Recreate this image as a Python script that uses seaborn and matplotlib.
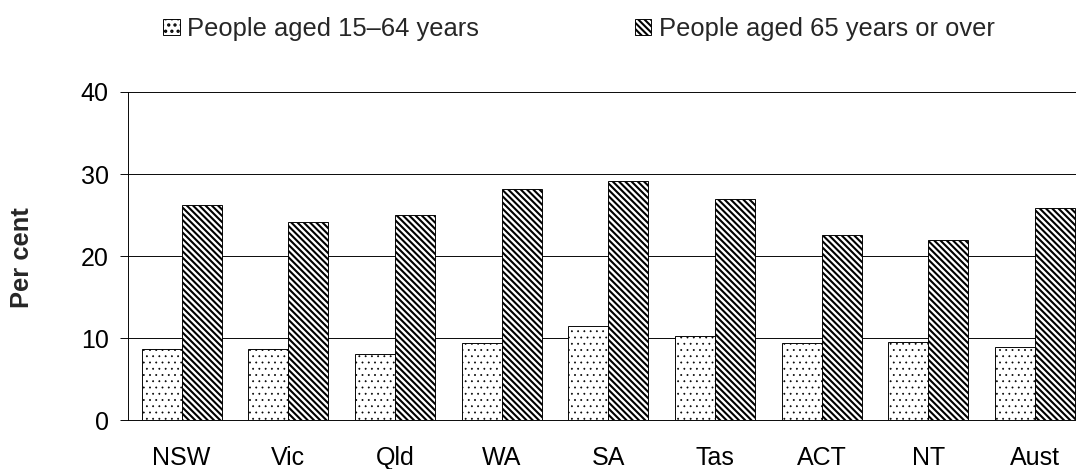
import numpy as np
import pandas as pd
import seaborn as sns
import matplotlib.pyplot as plt

states = ['NSW', 'Vic', 'Qld', 'WA', 'SA', 'Tas', 'ACT', 'NT', 'Aust']
aged_15_64 = [8.7, 8.7, 8.1, 9.4, 11.5, 10.2, 9.4, 9.5, 8.9]
aged_65_over = [26.2, 24.1, 25.0, 28.2, 29.2, 27.0, 22.5, 22.0, 25.9]
series_names = ['People aged 15–64 years', 'People aged 65 years or over']
y_ticks = [0, 10, 20, 30, 40]

df = pd.DataFrame({
    'state': states * 2,
    'group': [series_names[0]] * len(states) + [series_names[1]] * len(states),
    'value': aged_15_64 + aged_65_over,
})

sns.set_style('white')
plt.rcParams['font.family'] = ['Liberation Sans', 'DejaVu Sans']
plt.rcParams['hatch.linewidth'] = 2.0

DPI = 75
fig = plt.figure(figsize=(1076 / DPI, 469 / DPI), dpi=DPI)
ax = fig.add_axes([128.3 / 1076, 49 / 469, 960 / 1076, 328 / 469])

sns.barplot(data=df, x='state', y='value', hue='group', palette=['white', 'white'],
            saturation=1, edgecolor='black', linewidth=0.9, width=0.75,
            legend=False, ax=ax)

# motifs: points pour 15-64, rayures serrees pour 65+
hatches = ['..', '\\\\\\\\']
hatch_lw = [0.6, 2.0]
for cont, h, lw in zip(ax.containers, hatches, hatch_lw):
    for bar in cont:
        bar.set_hatch(h)
        if hasattr(bar, 'set_hatch_linewidth'):
            bar.set_hatch_linewidth(lw)

ax.set_xlim(-0.5, len(states) - 0.5)
ax.set_ylim(0, 40)
ax.set_yticks(y_ticks)
ax.grid(axis='y', color='black', linewidth=0.9)
ax.set_axisbelow(True)

ax.set_xticks(range(len(states)))
ax.set_xticklabels(states)
ax.set_xticks(np.arange(-0.5, len(states), 1), minor=True)
ax.tick_params(axis='x', which='major', length=0, pad=25, labelsize=24, colors='black')
ax.tick_params(axis='x', which='minor', length=8, width=0.9, direction='out', color='black')
ax.tick_params(axis='y', length=8, width=0.9, direction='out', pad=11, labelsize=24,
               colors='black', left=True)
ax.set_xlabel('')
ax.set_ylabel('')

for s in ['top', 'right']:
    ax.spines[s].set_visible(False)
for s in ['left', 'bottom']:
    ax.spines[s].set_color('black')
    ax.spines[s].set_linewidth(0.9)

fig.text(22 / 1076, 1 - 258 / 469, 'Per cent', rotation=90, fontsize=24.5,
         fontweight='bold', ha='center', va='center')

fig.legend(ax.containers, series_names, loc='center left',
           bbox_to_anchor=(163 / 1076, 1 - 29 / 469), ncol=2, frameon=False,
           fontsize=24.5, handlelength=0.65, handleheight=0.55, handletextpad=0.3,
           columnspacing=6.1, borderpad=0, borderaxespad=0)

fig.savefig('out.png', dpi=DPI)
